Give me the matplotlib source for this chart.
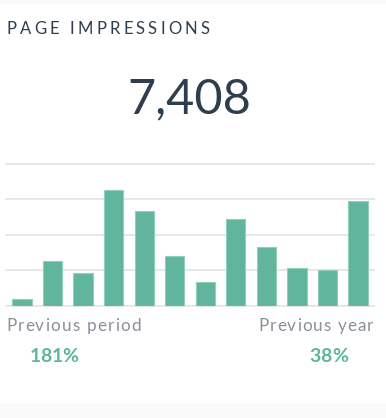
import matplotlib
matplotlib.use("Agg")
import matplotlib.pyplot as plt
from matplotlib.patches import Rectangle
from matplotlib.font_manager import FontProperties

title = "PAGE IMPRESSIONS"
total = "7,408"
values = [0.19, 1.27, 0.91, 3.25, 2.66, 1.40, 0.68, 2.43, 1.64, 1.05, 1.00, 2.94]
compare_labels = ["Previous period", "Previous year"]
compare_values = ["181%", "38%"]

W, H = 386, 418
fig = plt.figure(figsize=(W / 100, H / 100), dpi=100)
fig.patch.set_facecolor("#fafafa")

# white card behind everything
fig.patches.append(Rectangle((0, 1 - 403 / H), 1, (403 - 4) / H,
                             transform=fig.transFigure, facecolor="white",
                             edgecolor="none", zorder=-10))

dark = "#2f3e4e"
grey = "#8a9099"
green = "#5db895"

renderer = fig.canvas.get_renderer()


def text_w(s, prop):
    # advance width of s in pixels (sentinel keeps trailing spaces)
    w1 = renderer.get_text_width_height_descent(s + "|", prop, ismath=False)[0]
    w2 = renderer.get_text_width_height_descent("|", prop, ismath=False)[0]
    return w1 - w2


def spaced_text(x, y, s, prop, color, width=None, ha="left"):
    # draw s letter by letter with extra tracking so it spans `width` px
    plain = text_w(s, prop)
    track = 0 if width is None else (width - plain) / (len(s) - 1)
    full = plain + track * (len(s) - 1)
    x0 = {"left": x, "right": x - full, "center": x - full / 2}[ha]
    for i, ch in enumerate(s):
        if ch == " ":
            continue
        xi = x0 + text_w(s[:i], prop) + i * track
        fig.text(xi / W, 1 - y / H, ch, fontproperties=prop, color=color,
                 ha="left", va="baseline")


spaced_text(6.7, 34, title, FontProperties(family="Lato", size=12),
            dark, width=202.5)
fig.text(189 / W, 1 - 113 / H, total, fontsize=35, color=dark,
         family="Lato", va="baseline", ha="center")

ax = fig.add_axes([6 / W, 1 - 305.7 / H, 368 / W, (305.7 - 163.5) / H])
ax.patch.set_alpha(0)
ax.bar(range(len(values)), values, width=0.63, color="#62b59d",
       edgecolor="#8fd0bb", linewidth=0.8, zorder=3)
ax.set_xlim(-0.525, len(values) - 1 + 0.525)
ax.set_ylim(0, 4)
for y in range(5):
    ax.axhline(y, color="#e3e3e3", linewidth=1.2, zorder=1, clip_on=False)
ax.axis("off")

label_prop = FontProperties(family="Lato", size=12.3)
spaced_text(6, 331.3, compare_labels[0], label_prop, grey, width=135)
spaced_text(373.5, 331.3, compare_labels[1], label_prop, grey, width=115,
            ha="right")
pct_prop = FontProperties(family="Lato", size=14, weight="bold")
spaced_text(54, 361.7, compare_values[0], pct_prop, green, width=48,
            ha="center")
spaced_text(328.5, 361.7, compare_values[1], pct_prop, green, width=39,
            ha="center")

fig.savefig("out.png", dpi=100, facecolor=fig.get_facecolor())
